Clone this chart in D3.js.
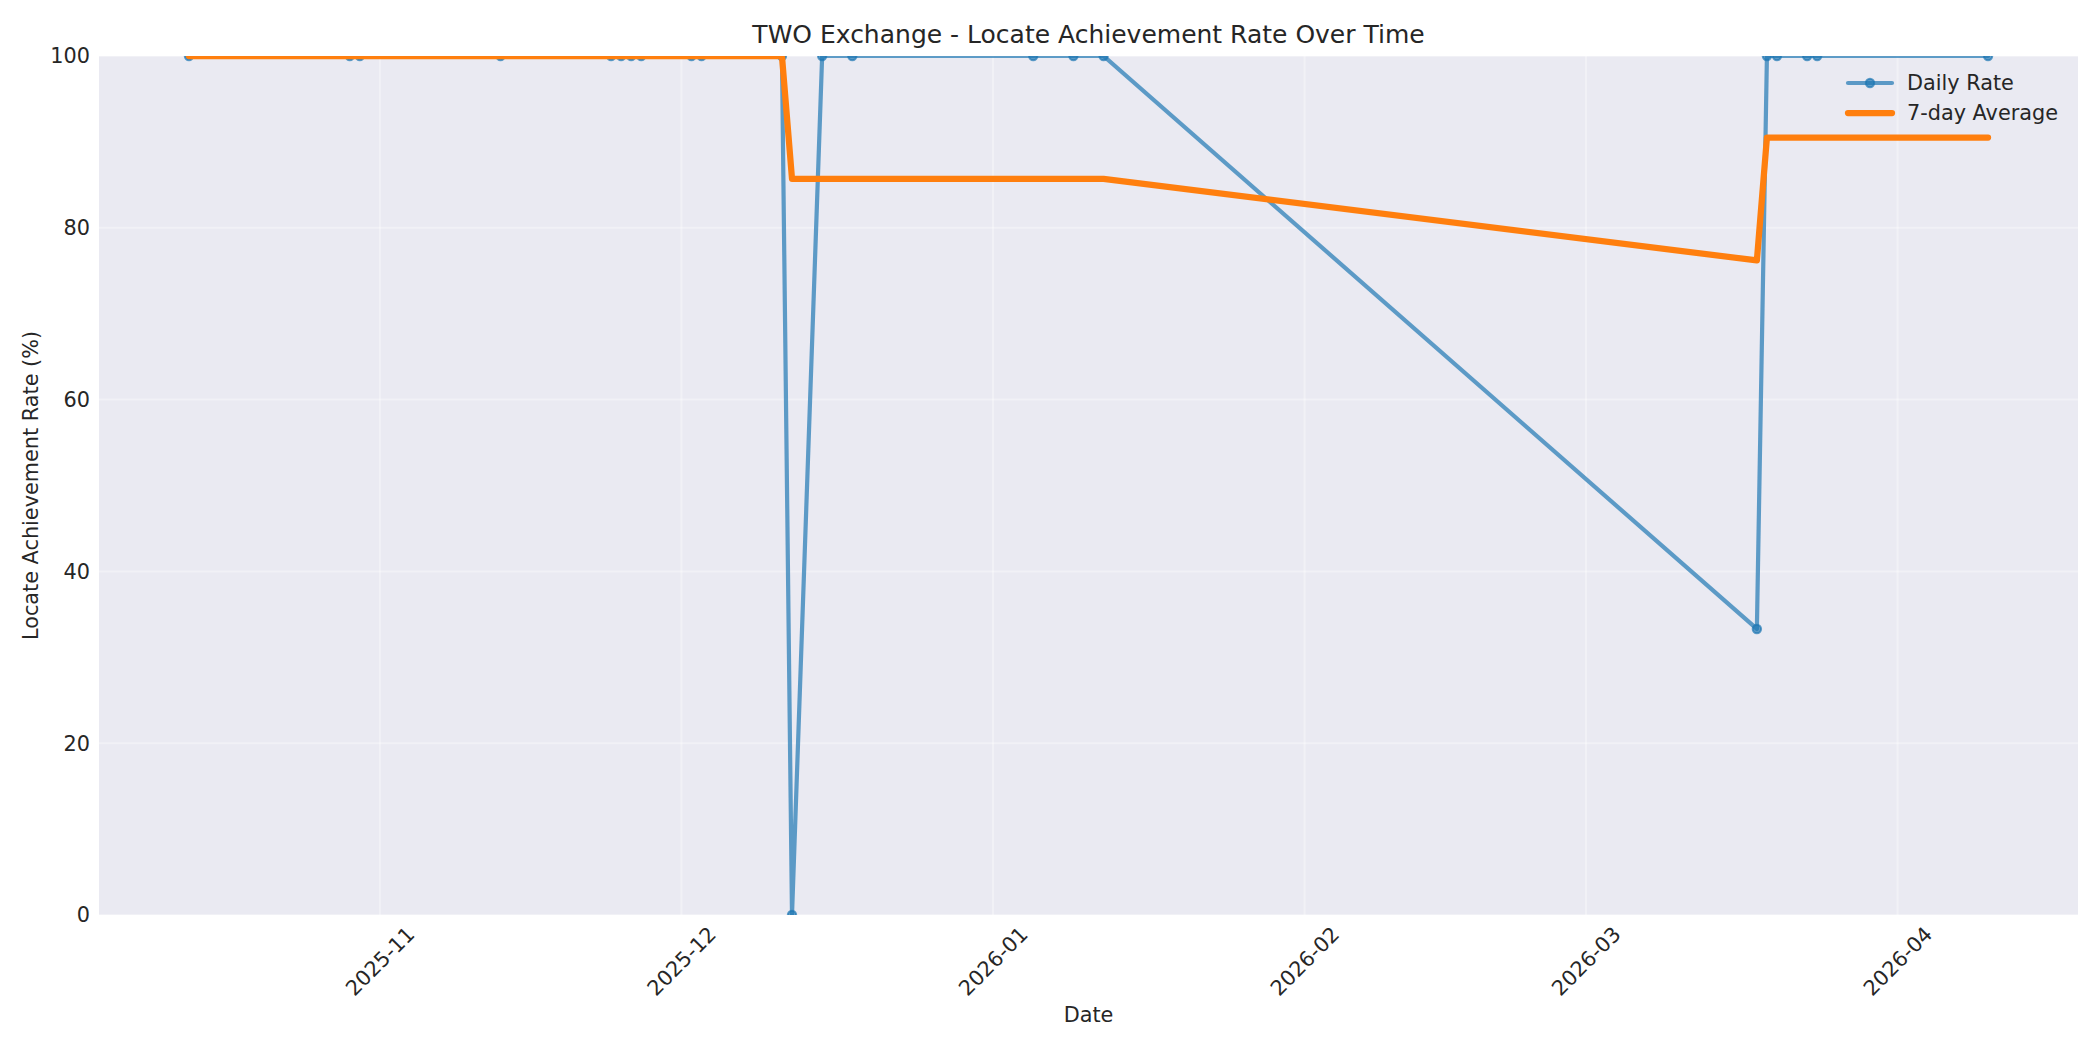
<!DOCTYPE html>
<html>
<head>
<meta charset="utf-8">
<script src="https://cdn.jsdelivr.net/npm/d3@7"></script>
<style>
  body { margin: 0; background: #fff; }
  text { font-family: "DejaVu Sans", sans-serif; fill: #262626; }
</style>
</head>
<body>
<div id="chart"></div>
<script>
// values
var dates = ["2025-10-13","2025-10-29","2025-10-30","2025-11-13","2025-11-24","2025-11-25",
             "2025-11-26","2025-11-27","2025-12-02","2025-12-03","2025-12-11","2025-12-12",
             "2025-12-15","2025-12-18","2026-01-05","2026-01-09","2026-01-12","2026-03-18",
             "2026-03-19","2026-03-20","2026-03-23","2026-03-24","2026-04-10"];
var dailyRate = [100,100,100,100,100,100,100,100,100,100,100,0,
                 100,100,100,100,100,33.3,100,100,100,100,100];
var avgRate = [100,100,100,100,100,100,100,100,100,100,100,85.7,
               85.7,85.7,85.7,85.7,85.7,76.2,90.5,90.5,90.5,90.5,90.5];
var yTicks = [0, 20, 40, 60, 80, 100];
var seriesNames = ["Daily Rate", "7-day Average"];

var width = 2100,
    height = 1050,
    plotLeft = 99, plotRight = 2078, plotTop = 56, plotBottom = 915;

var blue = "#1f77b4", orange = "#ff7f0e";

var parse = d3.utcParse("%Y-%m-%d");
var data = dates.map(function(d, i) {
    return { date: parse(d), daily: dailyRate[i], avg: avgRate[i] };
});

var ext = d3.extent(data, function(d) { return d.date; });
var pad = (ext[1] - ext[0]) * 0.05;

var x = d3.scaleUtc()
    .domain([new Date(+ext[0] - pad), new Date(+ext[1] + pad)])
    .range([plotLeft, plotRight]);

var y = d3.scaleLinear()
    .domain([0, 100])
    .range([plotBottom, plotTop]);

var svg = d3.select("#chart").append("svg")
    .attr("width", width)
    .attr("height", height);

svg.append("rect")
    .attr("x", plotLeft)
    .attr("y", plotTop)
    .attr("width", plotRight - plotLeft)
    .attr("height", plotBottom - plotTop)
    .attr("fill", "#eaeaf2");

svg.append("clipPath")
    .attr("id", "clip")
    .append("rect")
    .attr("x", plotLeft)
    .attr("y", plotTop)
    .attr("width", plotRight - plotLeft)
    .attr("height", plotBottom - plotTop);

var months = x.ticks(d3.utcMonth.every(1));
var fmt = d3.utcFormat("%Y-%m");

// grid
svg.append("g").selectAll("line")
    .data(months)
    .enter().append("line")
    .attr("x1", function(d) { return x(d); })
    .attr("x2", function(d) { return x(d); })
    .attr("y1", plotTop)
    .attr("y2", plotBottom)
    .attr("stroke", "#fff")
    .attr("stroke-opacity", 0.35)
    .attr("stroke-width", 2);

svg.append("g").selectAll("line")
    .data(yTicks)
    .enter().append("line")
    .attr("x1", plotLeft)
    .attr("x2", plotRight)
    .attr("y1", function(d) { return y(d); })
    .attr("y2", function(d) { return y(d); })
    .attr("stroke", "#fff")
    .attr("stroke-opacity", 0.35)
    .attr("stroke-width", 2);

// tick labels
svg.append("g").selectAll("text")
    .data(yTicks)
    .enter().append("text")
    .attr("x", plotLeft - 9)
    .attr("y", function(d) { return y(d); })
    .attr("dy", "0.36em")
    .attr("text-anchor", "end")
    .style("font-size", "20.8px")
    .text(function(d) { return d; });

svg.append("g").selectAll("text")
    .data(months)
    .enter().append("text")
    .attr("transform", function(d) { return "translate(" + x(d) + "," + 961 + ") rotate(-45)"; })
    .attr("text-anchor", "middle")
    .attr("dy", "0.36em")
    .style("font-size", "20.8px")
    .text(function(d) { return fmt(d); });

// lines
var plot = svg.append("g").attr("clip-path", "url(#clip)");

var dailyLine = d3.line()
    .x(function(d) { return x(d.date); })
    .y(function(d) { return y(d.daily); });

var avgLine = d3.line()
    .x(function(d) { return x(d.date); })
    .y(function(d) { return y(d.avg); });

var blueG = plot.append("g").attr("opacity", 0.7);
blueG.append("path")
    .datum(data)
    .attr("d", dailyLine)
    .attr("fill", "none")
    .attr("stroke", blue)
    .attr("stroke-width", 4.2)
    .attr("stroke-linejoin", "round")
    .attr("stroke-linecap", "round");

plot.selectAll("circle.pt")
    .data(data)
    .enter().append("circle")
    .attr("class", "pt")
    .attr("cx", function(d) { return x(d.date); })
    .attr("cy", function(d) { return y(d.daily); })
    .attr("r", 4.2)
    .attr("fill", blue)
    .attr("fill-opacity", 0.7)
    .attr("stroke", blue)
    .attr("stroke-opacity", 0.7)
    .attr("stroke-width", 2);

plot.append("path")
    .datum(data)
    .attr("d", avgLine)
    .attr("fill", "none")
    .attr("stroke", orange)
    .attr("stroke-width", 6.25)
    .attr("stroke-linejoin", "round")
    .attr("stroke-linecap", "round");

// title and axis labels
svg.append("text")
    .attr("x", (plotLeft + plotRight) / 2)
    .attr("y", 43)
    .attr("text-anchor", "middle")
    .style("font-size", "25px")
    .text("TWO Exchange - Locate Achievement Rate Over Time");

svg.append("text")
    .attr("x", (plotLeft + plotRight) / 2)
    .attr("y", 1022)
    .attr("text-anchor", "middle")
    .style("font-size", "20.8px")
    .text("Date");

svg.append("text")
    .attr("transform", "translate(38," + (plotTop + plotBottom) / 2 + ") rotate(-90)")
    .attr("text-anchor", "middle")
    .style("font-size", "20.8px")
    .text("Locate Achievement Rate (%)");

// legend
legend(83, seriesNames[0], blue, 4.2, 0.7, true);
legend(113, seriesNames[1], orange, 6.25, 1, false);

function legend(ly, label, color, w, op, marker) {
    var g = svg.append("g").attr("opacity", op);
    g.append("line")
        .attr("x1", 1848)
        .attr("x2", 1892)
        .attr("y1", ly)
        .attr("y2", ly)
        .attr("stroke", color)
        .attr("stroke-width", w)
        .attr("stroke-linecap", "round");
    if (marker) {
        svg.append("circle")
            .attr("cx", 1870)
            .attr("cy", ly)
            .attr("r", 4.2)
            .attr("fill", color)
            .attr("fill-opacity", 0.7)
            .attr("stroke", color)
            .attr("stroke-opacity", 0.7)
            .attr("stroke-width", 2);
    }
    svg.append("text")
        .attr("x", 1907)
        .attr("y", ly)
        .attr("dy", "0.36em")
        .style("font-size", "20.8px")
        .text(label);
}
</script>
</body>
</html>
